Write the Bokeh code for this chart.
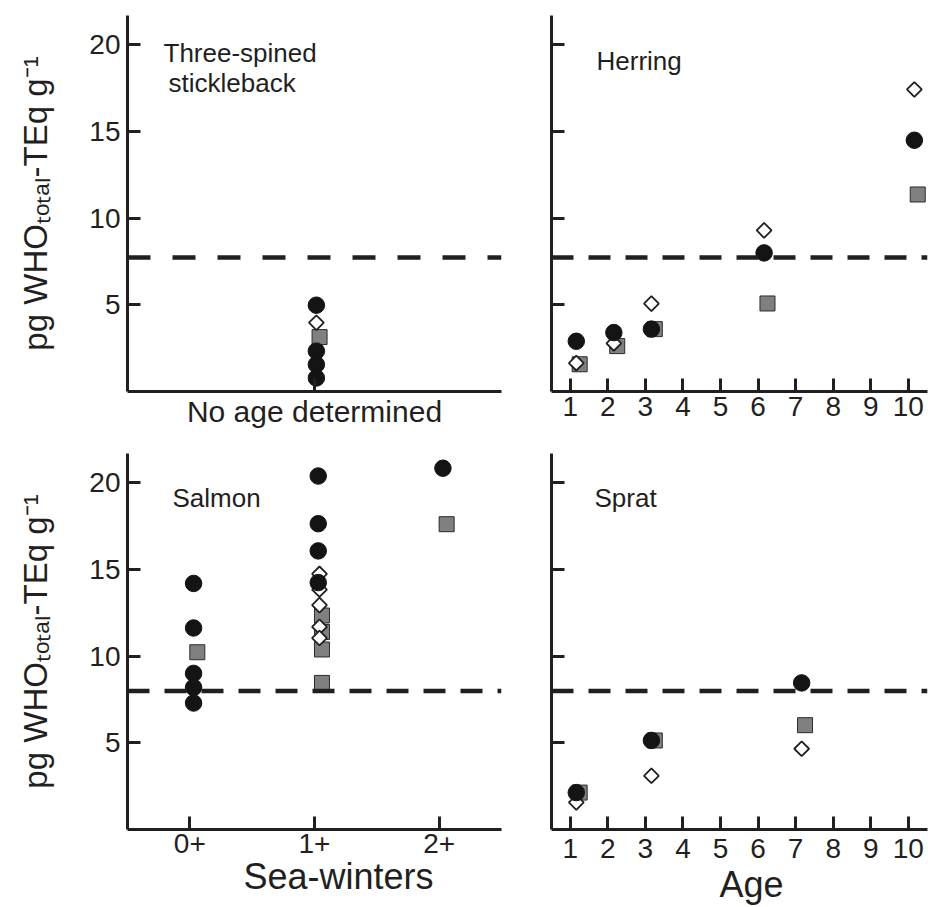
import numpy as np
from bokeh.plotting import figure
from bokeh.models import Span, Label, FixedTicker, Range1d, ColumnDataSource, Title
from bokeh.layouts import column, row
from bokeh.transform import dodge
from bokeh.embed import file_html
from bokeh.resources import INLINE

# ---------------- data ----------------
y_ticks = [5, 10, 15, 20]
age_ticks = [1, 2, 3, 4, 5, 6, 7, 8, 9, 10]
y_title = "pg WHO\u209c\u2092\u209c\u2090\u2097-TEq g\u207b\u00b9"

# Three-spined stickleback (no age determined)
stickle_cat = ["No age determined"]
stickle_circle = [4.98, 2.33, 1.56, 0.78]
stickle_square = [3.14]
stickle_diamond = [3.97]
stickle_threshold = 7.73

# Herring
herring_age_circle = [1, 2, 3, 6, 10]
herring_circle = [2.9, 3.4, 3.6, 8.0, 14.5]
herring_age_square = [1, 2, 3, 6, 10]
herring_square = [1.57, 2.62, 3.6, 5.08, 11.37]
herring_age_diamond = [1, 2, 3, 6, 10]
herring_diamond = [1.64, 2.78, 5.07, 9.3, 17.43]
herring_threshold = 7.73

# Salmon (sea-winters)
sea_winters = ["0+", "1+", "2+"]
salmon_sw_circle = ["0+", "0+", "0+", "0+", "0+", "1+", "1+", "1+", "1+", "2+"]
salmon_circle = [14.2, 11.63, 9.01, 8.2, 7.3, 20.4, 17.65, 16.08, 14.25, 20.85]
salmon_sw_square = ["0+", "1+", "1+", "1+", "1+", "2+"]
salmon_square = [10.23, 12.35, 11.4, 10.39, 8.46, 17.62]
salmon_sw_diamond = ["1+", "1+", "1+", "1+", "1+"]
salmon_diamond = [14.75, 13.85, 12.95, 11.7, 11.05]
salmon_threshold = 7.99

# Sprat
sprat_age_circle = [1, 3, 7]
sprat_circle = [2.13, 5.14, 8.46]
sprat_age_square = [1, 3, 7]
sprat_square = [2.13, 5.14, 6.02]
sprat_age_diamond = [1, 3, 7]
sprat_diamond = [1.56, 3.1, 4.66]
sprat_threshold = 7.99

# ---------------- style ----------------
INK = "#231f20"
FONT = "Liberation Sans"
CIRCLE_FILL = "#141414"
SQUARE_FILL = "#808080"
SQUARE_LINE = "#2b2b2b"

Y_MAX = 21.7


def make_fig(width, height, x_range, bl, br, bt, bb):
    p = figure(width=width, height=height, x_range=x_range,
               y_range=Range1d(0, Y_MAX), output_backend="svg",
               toolbar_location=None, min_border_left=bl,
               min_border_right=br, min_border_top=bt, min_border_bottom=bb)
    p.grid.visible = False
    p.outline_line_color = None
    p.background_fill_color = "white"
    p.border_fill_color = "white"
    for ax in list(p.xaxis) + list(p.yaxis):
        ax.axis_line_width = 3
        ax.axis_line_color = INK
        ax.major_tick_line_width = 3
        ax.major_tick_line_color = INK
        ax.major_tick_in = 13
        ax.major_tick_out = 0
        ax.minor_tick_line_color = None
        ax.major_label_text_font = FONT
        ax.major_label_text_font_size = "28px"
        ax.major_label_text_color = INK
        ax.major_label_standoff = 7
        ax.axis_label_text_font = FONT
        ax.axis_label_text_font_size = "33px"
        ax.axis_label_text_font_style = "normal"
        ax.axis_label_text_color = INK
    p.yaxis.ticker = FixedTicker(ticks=y_ticks)
    return p


def add_points(p, xs_c, ys_c, xs_s, ys_s, xs_d, ys_d, off_c, off_s, off_d):
    src_s = ColumnDataSource(dict(x=xs_s, y=ys_s))
    src_d = ColumnDataSource(dict(x=xs_d, y=ys_d))
    src_c = ColumnDataSource(dict(x=xs_c, y=ys_c))
    p.scatter(x=dodge("x", off_s), y="y", source=src_s, marker="square",
              size=15, fill_color=SQUARE_FILL, line_color=SQUARE_LINE, line_width=1)
    p.scatter(x=dodge("x", off_d), y="y", source=src_d, marker="square",
              angle=np.pi / 4, size=10.5, fill_color="white", line_color=INK,
              line_width=1.8)
    p.scatter(x=dodge("x", off_c), y="y", source=src_c, marker="circle",
              size=16.5, fill_color=CIRCLE_FILL, line_color=CIRCLE_FILL)


def add_threshold(p, level, dash):
    p.add_layout(Span(location=level, dimension="width", line_color=INK,
                      line_width=4.5, line_dash=dash))


def add_text(p, text, x, y, size="26px", align="left"):
    p.add_layout(Label(x=x, y=y, x_units="screen", y_units="screen", text=text,
                       text_font=FONT, text_font_size=size, text_color=INK,
                       text_align=align, text_baseline="alphabetic"))


def add_xtitle(p, text, offset, standoff):
    p.add_layout(Title(text=text, align="left", offset=offset, standoff=standoff,
                       text_font=FONT, text_font_size="36px",
                       text_font_style="normal", text_color=INK), "below")


def add_ytitle(p):
    p.yaxis.axis_label = y_title
    p.yaxis.axis_label_standoff = 32


LW, RW = 539, 389
TH, BH = 445, 462

# ---- top-left: stickleback ----
p1 = make_fig(LW, TH, Range1d(0, 2), 127, 38, 15, 54)
stickle_x = [1]
p1.xaxis.ticker = FixedTicker(ticks=stickle_x)
p1.xaxis.major_label_overrides = {1: stickle_cat[0]}
p1.xaxis.major_label_text_font_size = "30px"
p1.xaxis.major_label_standoff = 3
add_ytitle(p1)
add_threshold(p1, stickle_threshold, "23 22")
add_points(p1, stickle_x * len(stickle_circle), stickle_circle,
           stickle_x * len(stickle_square), stickle_square,
           stickle_x * len(stickle_diamond), stickle_diamond, 0.01, 0.027, 0.01)
add_text(p1, "Three-spined", 36, 339)
add_text(p1, "stickleback", 41, 309)

# ---- top-right: herring ----
p2 = make_fig(RW, TH, Range1d(0.5, 10.51), 12, 1, 15, 54)
p2.xaxis.ticker = FixedTicker(ticks=age_ticks)
p2.xaxis.major_label_standoff = 5
p2.yaxis.major_label_overrides = {t: "" for t in y_ticks}
p2.yaxis.major_label_standoff = 0
add_threshold(p2, herring_threshold, "22 15")
add_points(p2, herring_age_circle, herring_circle, herring_age_square, herring_square,
           herring_age_diamond, herring_diamond, 0.16, 0.25, 0.16)
add_text(p2, "Herring", 45, 331)

# ---- bottom-left: salmon ----
p3 = make_fig(LW, BH, Range1d(-0.5, len(sea_winters) - 0.5), 127, 38, 8, 78)
sw_idx = list(range(len(sea_winters)))
p3.xaxis.ticker = FixedTicker(ticks=sw_idx)
p3.xaxis.major_label_overrides = {i: s for i, s in zip(sw_idx, sea_winters)}
p3.xaxis.major_label_standoff = 4
add_ytitle(p3)
add_xtitle(p3, "Sea-winters", 116, -3)
add_threshold(p3, salmon_threshold, "22 15")
add_points(p3, [sea_winters.index(s) for s in salmon_sw_circle], salmon_circle,
           [sea_winters.index(s) for s in salmon_sw_square], salmon_square,
           [sea_winters.index(s) for s in salmon_sw_diamond], salmon_diamond,
           0.03, 0.06, 0.04)
add_text(p3, "Salmon", 45, 332)

# ---- bottom-right: sprat ----
p4 = make_fig(RW, BH, Range1d(0.5, 10.51), 12, 1, 8, 78)
p4.xaxis.ticker = FixedTicker(ticks=age_ticks)
p4.xaxis.major_label_standoff = 9
add_xtitle(p4, "Age", 168, 2)
p4.yaxis.major_label_overrides = {t: "" for t in y_ticks}
p4.yaxis.major_label_standoff = 0
add_threshold(p4, sprat_threshold, "22 15")
add_points(p4, sprat_age_circle, sprat_circle, sprat_age_square, sprat_square,
           sprat_age_diamond, sprat_diamond, 0.16, 0.25, 0.16)
add_text(p4, "Sprat", 43, 332)

layout = column(row(p1, p2), row(p3, p4))
open("out.html", "w").write(file_html(layout, INLINE))
